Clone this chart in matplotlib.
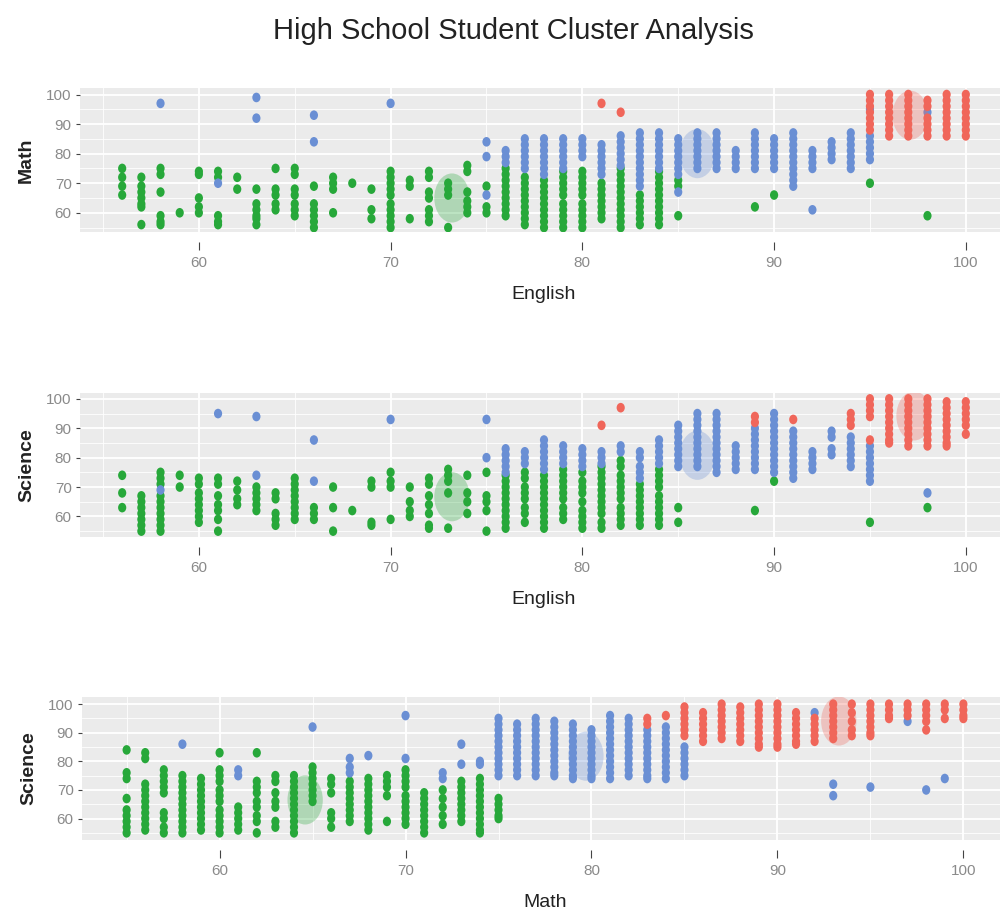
import matplotlib.pyplot as plt
from matplotlib.path import Path
from matplotlib.ticker import MultipleLocator

plt.rcParams['font.family'] = ['Liberation Sans Narrow', 'Liberation Sans', 'DejaVu Sans']

# each dict: {x score: [y scores at that x]}
# panel 1: English vs Math
p1_green = {
    56: [75, 72, 69, 66], 57: [72, 69, 67, 65, 63, 62, 56], 58: [75, 73, 67, 59, 57, 56],
    59: [60], 60: [74, 73, 65, 62, 60], 61: [74, 72, 59, 57, 56], 62: [72, 68],
    63: [68, 63, 61, 59, 58, 56], 64: [75, 68, 66, 63, 61], 65: [75, 73, 68, 66, 63, 61, 59],
    66: [69, 63, 61, 59, 57, 55], 67: [72, 70, 68, 60], 68: [70], 69: [68, 61, 58],
    70: [74, 72, 70, 68, 66, 63, 61, 59, 57, 55], 71: [71, 69, 58],
    72: [74, 72, 67, 65, 61, 59, 57], 73: [70, 68, 66, 55], 74: [76, 74, 67, 64, 62, 60],
    75: [69, 62, 60], 76: [75, 73, 71, 69, 67, 65, 63, 61, 59],
    77: [72, 70, 68, 66, 64, 62, 60, 58, 56], 78: [71, 69, 67, 65, 63, 61, 59, 57, 55],
    79: [74, 72, 70, 68, 66, 63, 61, 59, 57, 55], 80: [74, 72, 70, 68, 66, 63, 61, 59, 57, 55],
    81: [70, 68, 66, 64, 62, 60, 58], 82: [75, 73, 71, 69, 67, 65, 63, 61, 59, 57, 55],
    83: [66, 64, 62, 60, 58, 56], 84: [74, 72, 70, 68, 66, 64, 62, 60, 58, 56],
    85: [71, 69, 59], 89: [62], 90: [66], 95: [70], 98: [59],
}
p1_blue = {
    58: [97], 61: [70], 63: [99, 92], 66: [93, 84], 70: [97], 75: [84, 79, 66],
    76: [81, 79, 77], 77: [85, 83, 81, 79, 77, 75], 78: [85, 83, 81, 79, 77, 75, 73],
    79: [85, 83, 81, 79, 77, 75], 80: [85, 83, 81, 79], 81: [83, 81, 79, 77, 75, 73],
    82: [86, 84, 82, 80, 78, 76], 83: [87, 85, 83, 81, 79, 77, 75, 73, 71, 69],
    84: [87, 85, 83, 81, 79, 77, 75], 85: [85, 83, 81, 79, 77, 75, 73, 67],
    86: [87, 85, 83, 81, 79, 77, 75], 87: [87, 85, 83, 81, 79, 77, 75], 88: [81, 79, 77, 75],
    89: [87, 85, 83, 81, 79, 77, 75], 90: [85, 83, 81, 79, 77, 75],
    91: [87, 85, 83, 81, 79, 77, 75, 73, 71, 69], 92: [81, 79, 77, 75, 61],
    93: [84, 82, 80, 78], 94: [87, 85, 83, 81, 79, 77, 75], 95: [95, 86, 84, 82, 80, 78],
    98: [94],
}
p1_red = {
    81: [97], 82: [94], 95: [100, 98, 96, 94, 92, 90, 88],
    96: [100, 98, 96, 94, 92, 90, 88, 86], 97: [100, 98, 96, 94, 92, 90, 88, 86],
    98: [98, 96, 92, 90, 88, 86], 99: [100, 98, 96, 94, 92, 90, 88, 86],
    100: [100, 98, 96, 94, 92, 90, 88, 86],
}
p1_centers_x = [73.2, 86, 97.1]
p1_centers_y = [65, 80, 93]

# panel 2: English vs Science
p2_green = {
    56: [74, 68, 63], 57: [67, 65, 63, 61, 59, 57, 55], 58: [75, 73, 71, 67, 65, 63, 61, 59, 57, 55],
    59: [74, 70], 60: [73, 71, 68, 66, 64, 62, 60, 58], 61: [73, 71, 67, 64, 62, 59, 55],
    62: [72, 69, 66, 64], 63: [70, 68, 66, 64, 62], 64: [68, 66, 61, 59, 57],
    65: [73, 71, 69, 67, 65, 63, 61, 59], 66: [63, 61, 59], 67: [70, 63, 55], 68: [62],
    69: [72, 70, 58, 57], 70: [75, 72, 70, 59], 71: [70, 65, 62, 60],
    72: [73, 71, 67, 64, 61, 57, 56], 73: [76, 74, 72, 68, 56], 74: [74, 68, 65, 61],
    75: [75, 67, 65, 62, 55], 76: [74, 72, 70, 68, 66, 64, 62, 60, 58, 56],
    77: [75, 73, 70, 68, 66, 63, 61, 58], 78: [74, 72, 70, 68, 66, 64, 62, 60, 58, 56],
    79: [76, 74, 72, 70, 68, 66, 63, 61, 59], 80: [75, 72, 70, 68, 65, 62, 60, 58, 56],
    81: [77, 75, 73, 71, 69, 67, 65, 63, 61, 58, 56], 82: [79, 77, 74, 72, 70, 68, 66, 63, 61, 59, 57],
    83: [71, 69, 67, 65, 63, 61, 59, 57], 84: [76, 74, 72, 70, 67, 65, 63, 61, 59, 57],
    85: [63, 58], 89: [62], 90: [72], 95: [58], 98: [63],
}
p2_blue = {
    58: [69], 61: [95], 63: [94, 74], 66: [86, 72], 70: [93], 75: [93, 80],
    76: [83, 81, 79, 77, 75], 77: [82, 80, 78], 78: [86, 84, 82, 80, 78, 76],
    79: [84, 82, 80, 78], 80: [83, 81, 79, 77], 81: [82, 80, 78], 82: [84, 82],
    83: [82, 80, 77, 75, 73], 84: [86, 84, 82, 80, 78], 85: [91, 89, 87, 85, 83, 81, 79, 77],
    86: [95, 93, 91, 89, 87, 85, 83, 81, 79, 77], 87: [95, 93, 91, 89, 87, 85, 83, 81, 79, 77, 75],
    88: [84, 82, 80, 78, 76], 89: [90, 88, 86, 84, 82, 80, 78, 76],
    90: [95, 93, 91, 89, 87, 85, 83, 81, 79, 77, 75], 91: [89, 87, 85, 83, 81, 79, 77, 75, 73],
    92: [82, 80, 78, 76], 93: [89, 87, 83, 81], 94: [87, 85, 83, 81, 79, 77],
    95: [84, 82, 80, 78, 76, 74, 72], 98: [68],
}
p2_red = {
    81: [91], 82: [97], 89: [94, 92], 91: [93], 94: [95, 93, 91], 95: [100, 98, 96, 94, 86],
    96: [100, 98, 96, 94, 92, 90, 88, 86, 85], 97: [100, 98, 96, 94, 92, 90, 88, 86, 84],
    98: [100, 98, 96, 94, 92, 90, 88, 86, 84], 99: [99, 97, 95, 93, 91, 89, 87, 85, 84],
    100: [99, 97, 95, 93, 91, 88],
}
p2_centers_x = [73.2, 86, 97.3]
p2_centers_y = [66.7, 80.8, 94.2]

# panel 3: Math vs Science
p3_green = {
    55: [84, 76, 74, 67, 63, 61, 59, 57, 55], 56: [83, 81, 72, 70, 68, 66, 64, 62, 60, 58, 56],
    57: [77, 75, 73, 71, 69, 62, 60, 57, 55], 58: [75, 73, 71, 69, 67, 65, 63, 61, 59, 57, 55],
    59: [74, 72, 70, 68, 66, 64, 62, 60, 58, 56], 60: [83, 77, 75, 73, 70, 68, 66, 63, 61, 59, 57, 55],
    61: [64, 62, 60, 58, 56], 62: [83, 73, 71, 69, 66, 64, 61, 59, 55],
    63: [75, 73, 69, 66, 64, 59, 57], 64: [75, 73, 71, 69, 67, 65, 63, 61, 59, 57, 55],
    65: [78, 76, 74, 72, 70, 68, 66], 66: [74, 72, 69, 62, 60, 57],
    67: [73, 71, 69, 67, 65, 63, 61, 59], 68: [74, 72, 70, 68, 66, 64, 62, 60, 58, 56],
    69: [75, 73, 71, 68, 59], 70: [77, 75, 73, 71, 68, 66, 64, 62, 60, 58],
    71: [69, 67, 65, 63, 61, 59, 57, 55], 72: [70, 67, 64, 61, 58],
    73: [73, 71, 69, 67, 65, 63, 61, 59], 74: [74, 72, 70, 68, 66, 64, 62, 60, 58, 56, 55],
    75: [67, 65, 63, 61, 60],
}
p3_blue = {
    58: [86], 61: [77, 75], 65: [92], 67: [81, 78, 76], 68: [82], 70: [96, 81], 72: [76, 74],
    73: [86, 79], 74: [80, 79], 75: [95, 93, 91, 89, 87, 85, 83, 81, 79, 77, 75],
    76: [93, 91, 89, 87, 85, 83, 81, 79, 77, 75], 77: [95, 93, 91, 89, 87, 85, 83, 81, 79, 77, 75],
    78: [94, 92, 90, 88, 86, 84, 82, 80, 78, 76, 75], 79: [93, 91, 89, 87, 85, 83, 81, 79, 77, 75, 74],
    80: [91, 89, 87, 85, 83, 81, 79, 77, 75, 74], 81: [96, 94, 92, 90, 88, 86, 84, 82, 80, 78, 76, 74],
    82: [95, 93, 91, 89, 87, 85, 83, 81, 79, 77, 75], 83: [91, 89, 87, 85, 83, 81, 79, 77, 75, 74],
    84: [92, 90, 88, 86, 84, 82, 80, 78, 76, 74], 85: [85, 83, 81, 79, 77, 75],
    92: [97], 93: [72, 68], 95: [71], 97: [94], 98: [70], 99: [74],
}
p3_red = {
    83: [95, 93], 84: [96], 85: [99, 97, 95, 93, 91, 89], 86: [97, 95, 93, 91, 89, 87],
    87: [100, 98, 96, 94, 92, 90, 88], 88: [99, 97, 95, 93, 91, 89, 87],
    89: [100, 98, 96, 94, 92, 90, 88, 86, 85], 90: [100, 98, 96, 94, 92, 90, 88, 86, 85],
    91: [97, 95, 93, 91, 89, 87, 86], 92: [95, 93, 91, 89, 87], 93: [100, 98, 96, 94, 92, 90, 88],
    94: [100, 97, 94, 91, 89], 95: [100, 98, 96, 94, 92, 90, 89], 96: [100, 98, 96, 95],
    97: [100, 98, 96], 98: [100, 98, 96, 94, 91], 99: [100, 98, 95], 100: [100, 98, 96, 95],
}
p3_centers_x = [64.6, 79.7, 93.3]
p3_centers_y = [66.5, 81.8, 94.1]

x_labels = ['English', 'English', 'Math']
y_labels = ['Math', 'Science', 'Science']
y_ticks = [60, 70, 80, 90, 100]
x_ticks = [60, 70, 80, 90, 100]

GREEN = '#27a83a'
BLUE = '#6a8fd4'
RED = '#f0665a'


def flatten(cols):
    xs, ys = [], []
    for x, col in cols.items():
        xs += [x] * len(col)
        ys += col
    return xs, ys


# tall ovals: the source image is squeezed sideways
circ = Path.unit_circle()
oval = Path(circ.vertices * [0.72, 1.0], circ.codes)
dot = Path(circ.vertices * [0.85, 1.0], circ.codes)

panels = [
    (p1_green, p1_blue, p1_red, p1_centers_x, p1_centers_y, (53.8, 102.2), (53.5, 102.2)),
    (p2_green, p2_blue, p2_red, p2_centers_x, p2_centers_y, (53.8, 102.2), (53.0, 102.0)),
    (p3_green, p3_blue, p3_red, p3_centers_x, p3_centers_y, (52.6, 102.4), (52.5, 102.5)),
]
# axes boxes in pixels (left, top, right, bottom) of a 1000x918 canvas
boxes = [(80, 88, 1008, 232), (80, 393, 1008, 537), (82, 697, 1008, 840)]

fig = plt.figure(figsize=(10, 9.18), dpi=100)
W, H = 1000, 918

for i, (green, blue, red, cx, cy, xlim, ylim) in enumerate(panels):
    l, t, r, b = boxes[i]
    ax = fig.add_axes([l / W, 1 - b / H, (r - l) / W, (b - t) / H])
    ax.set_facecolor('#EBEBEB')

    for cols, color in [(green, GREEN), (blue, BLUE), (red, RED)]:
        xs, ys = flatten(cols)
        ax.scatter(xs, ys, s=48, marker=dot, color=color, edgecolors='none', zorder=3)
    ax.scatter(cx, cy, s=1250, marker=oval, color=[GREEN, BLUE, RED],
               alpha=0.3, edgecolors='none', zorder=4)

    ax.set_xlim(*xlim)
    ax.set_ylim(*ylim)
    ax.set_xticks(x_ticks)
    ax.set_yticks(y_ticks)
    ax.xaxis.set_minor_locator(MultipleLocator(5))
    ax.yaxis.set_minor_locator(MultipleLocator(5))
    ax.grid(which='major', color='white', linewidth=1.3, zorder=0)
    ax.grid(which='minor', color='white', linewidth=0.6, zorder=0)
    ax.set_axisbelow(True)

    for sp in ax.spines.values():
        sp.set_visible(False)
    ax.spines['bottom'].set_position(('outward', 7))

    ax.tick_params(which='minor', length=0)
    ax.tick_params(axis='x', which='major', length=6, width=0.8, color='#444444',
                   labelcolor='#8a8a8a', labelsize=11, pad=4)
    ax.tick_params(axis='y', which='major', length=3, width=0.8, color='#444444',
                   labelcolor='#8a8a8a', labelsize=11, pad=3)

    ax.set_xlabel(x_labels[i], fontsize=14, color='#222222', labelpad=12)
    ax.set_ylabel(y_labels[i], fontsize=14, color='#222222', fontweight='bold',
                  family=['Liberation Sans', 'DejaVu Sans'], labelpad=8)

fig.text(0.513, 0.966, 'High School Student Cluster Analysis', ha='center', va='center',
         fontsize=21, color='#222222')

plt.savefig('out.png', dpi=100)
plt.close()
